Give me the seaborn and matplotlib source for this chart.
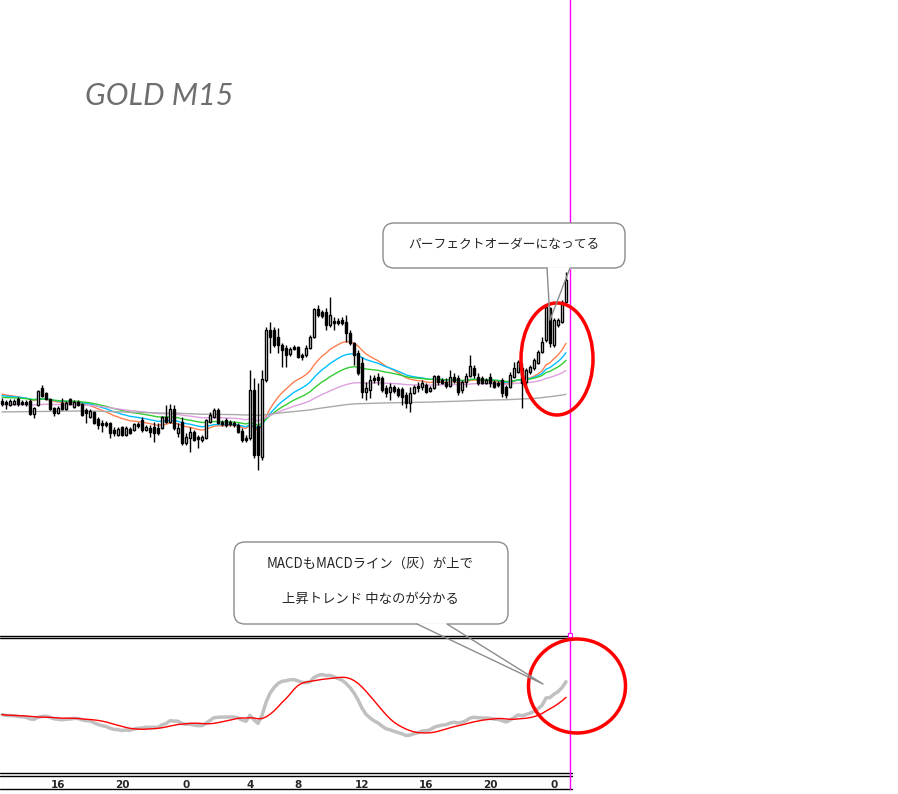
import numpy as np
import pandas as pd
import matplotlib
matplotlib.use('Agg')
import matplotlib.pyplot as plt
from matplotlib.patches import FancyBboxPatch, Ellipse
import seaborn as sns

# ---- data (GOLD M15) ----
opens = [1789.9, 1789.8, 1789.5, 1789.6, 1790.1, 1789.8, 1789.8, 1789.9, 1788.6, 1789.5,
         1791.2, 1790.7, 1790.1, 1789.2, 1788.7, 1789.7, 1789.1, 1790.1, 1789.3, 1789.8,
         1789.6, 1789.0, 1788.3, 1788.8, 1788.1, 1787.7, 1787.7, 1787.7, 1787.0, 1786.5,
         1787.3, 1786.5, 1787.1, 1787.0, 1787.6, 1788.0, 1787.0, 1787.2, 1787.3, 1787.2,
         1787.2, 1788.3, 1787.8, 1789.1, 1786.7, 1787.8, 1785.7, 1786.2, 1786.8, 1786.3,
         1786.0, 1786.2, 1787.8, 1788.3, 1789.0, 1787.8, 1788.0, 1787.8, 1787.7, 1787.5,
         1786.9, 1786.2, 1786.2, 1791.0, 1787.4, 1784.3, 1792.0, 1797.0, 1797.0, 1796.3,
         1795.5, 1795.2, 1794.6, 1795.3, 1795.3, 1794.5, 1794.5, 1795.2, 1796.3, 1799.1,
         1798.8, 1798.8, 1797.5, 1797.9, 1797.9, 1798.0, 1797.8, 1796.7, 1795.7, 1794.7,
         1793.7, 1790.8, 1791.0, 1792.2, 1792.3, 1792.2, 1791.2, 1790.8, 1791.3, 1791.1,
         1791.1, 1790.5, 1789.7, 1790.7, 1791.4, 1791.3, 1791.5, 1790.9, 1791.2, 1792.4,
         1792.0, 1791.8, 1791.4, 1792.3, 1792.2, 1791.0, 1791.8, 1792.4, 1793.2, 1792.3,
         1792.2, 1791.7, 1792.3, 1791.8, 1791.7, 1792.0, 1791.3, 1791.3, 1792.3, 1792.8,
         1793.2, 1791.8, 1792.8, 1793.2, 1793.7, 1794.8, 1796.0, 1799.2, 1795.5, 1797.5,
         1797.8, 1799.8]
highs = [1790.2, 1790.0, 1790.1, 1790.1, 1790.3, 1790.0, 1790.0, 1790.1, 1789.3, 1791.0,
         1791.5, 1790.8, 1790.2, 1789.3, 1789.4, 1790.2, 1789.9, 1790.2, 1790.0, 1790.0,
         1789.7, 1789.2, 1789.1, 1788.9, 1788.3, 1788.0, 1787.9, 1787.8, 1787.3, 1787.3,
         1787.4, 1787.4, 1787.3, 1787.7, 1787.8, 1788.3, 1787.5, 1787.5, 1787.8, 1787.7,
         1788.4, 1789.5, 1789.6, 1789.5, 1787.7, 1788.3, 1786.7, 1787.3, 1787.0, 1786.5,
         1786.5, 1788.1, 1788.8, 1789.2, 1789.2, 1788.0, 1788.2, 1788.0, 1787.9, 1787.7,
         1787.2, 1786.5, 1793.0, 1792.2, 1791.7, 1793.0, 1797.3, 1797.8, 1797.3, 1797.2,
         1795.7, 1795.5, 1795.3, 1795.5, 1795.4, 1794.7, 1795.5, 1796.5, 1799.2, 1799.5,
         1799.0, 1799.2, 1800.3, 1798.3, 1798.2, 1798.3, 1798.5, 1797.0, 1795.8, 1795.0,
         1794.3, 1791.8, 1792.5, 1792.5, 1792.7, 1792.4, 1791.5, 1791.7, 1791.5, 1791.3,
         1791.3, 1790.8, 1791.3, 1791.5, 1791.8, 1792.0, 1791.7, 1791.4, 1792.5, 1792.5,
         1792.2, 1792.2, 1793.0, 1792.7, 1792.5, 1792.0, 1792.7, 1794.5, 1793.5, 1792.7,
         1792.4, 1792.2, 1792.7, 1792.0, 1791.9, 1792.2, 1791.5, 1792.8, 1793.8, 1794.0,
         1793.7, 1793.2, 1793.5, 1794.2, 1795.0, 1796.3, 1799.5, 1799.3, 1798.2, 1798.2,
         1800.0, 1802.8]
lows = [1789.4, 1789.1, 1789.4, 1789.5, 1789.4, 1789.5, 1789.4, 1788.5, 1788.2, 1789.4,
        1790.3, 1790.0, 1789.0, 1788.4, 1788.6, 1789.0, 1789.0, 1789.5, 1789.2, 1789.4,
        1788.4, 1787.7, 1788.2, 1787.6, 1787.1, 1786.8, 1787.3, 1786.2, 1786.4, 1786.4,
        1786.4, 1786.4, 1786.6, 1786.9, 1787.2, 1786.8, 1786.9, 1786.3, 1785.8, 1786.5,
        1787.1, 1787.7, 1787.7, 1787.0, 1786.3, 1785.5, 1785.5, 1784.8, 1785.9, 1785.2,
        1785.8, 1786.1, 1787.7, 1788.2, 1787.6, 1787.4, 1787.3, 1787.4, 1787.3, 1786.7,
        1785.8, 1785.8, 1786.0, 1784.2, 1783.0, 1784.0, 1791.8, 1794.7, 1795.3, 1794.7,
        1793.3, 1793.3, 1794.4, 1795.0, 1794.2, 1794.0, 1794.3, 1795.1, 1796.2, 1798.3,
        1798.2, 1797.0, 1797.3, 1797.0, 1797.5, 1797.5, 1795.8, 1795.5, 1793.5, 1792.5,
        1790.2, 1790.0, 1790.2, 1791.7, 1791.5, 1790.8, 1790.3, 1790.0, 1790.7, 1790.3,
        1789.5, 1789.2, 1788.8, 1790.6, 1790.8, 1791.0, 1790.7, 1790.8, 1791.1, 1791.5,
        1791.6, 1791.2, 1791.3, 1791.7, 1790.5, 1790.7, 1791.3, 1792.3, 1792.2, 1791.5,
        1791.6, 1791.6, 1791.3, 1791.2, 1791.3, 1790.3, 1790.2, 1791.2, 1792.2, 1792.7,
        1789.2, 1790.8, 1792.6, 1793.0, 1793.6, 1794.7, 1795.8, 1795.3, 1795.3, 1797.3,
        1797.7, 1799.7]
closes = [1789.6, 1789.6, 1789.9, 1789.9, 1789.6, 1789.6, 1789.6, 1788.6, 1789.2, 1790.9,
          1790.4, 1790.1, 1789.1, 1788.7, 1789.2, 1789.1, 1789.7, 1789.6, 1789.8, 1789.5,
          1788.5, 1788.7, 1788.9, 1787.7, 1787.5, 1787.5, 1787.5, 1786.7, 1786.7, 1787.1,
          1786.5, 1787.2, 1786.7, 1787.6, 1787.4, 1787.0, 1787.3, 1786.8, 1786.7, 1786.7,
          1788.3, 1787.8, 1789.1, 1787.2, 1787.2, 1785.7, 1786.3, 1786.8, 1786.0, 1786.1,
          1786.3, 1788.0, 1788.5, 1789.0, 1787.7, 1787.6, 1787.5, 1787.6, 1787.5, 1786.8,
          1786.0, 1786.0, 1791.0, 1784.5, 1784.5, 1792.1, 1797.0, 1796.3, 1795.5, 1795.5,
          1795.0, 1794.5, 1795.1, 1795.1, 1794.3, 1794.3, 1795.2, 1796.3, 1799.1, 1798.5,
          1798.4, 1797.5, 1798.5, 1797.7, 1797.7, 1797.7, 1796.7, 1795.7, 1794.5, 1792.7,
          1790.8, 1791.2, 1792.0, 1792.0, 1792.0, 1791.0, 1790.7, 1791.3, 1790.9, 1790.5,
          1790.3, 1789.7, 1790.7, 1791.3, 1791.2, 1791.7, 1790.8, 1791.2, 1792.4, 1791.8,
          1791.7, 1791.4, 1792.3, 1791.9, 1790.8, 1791.8, 1792.4, 1793.4, 1792.5, 1791.7,
          1791.7, 1792.0, 1791.7, 1791.3, 1791.5, 1790.7, 1790.5, 1792.5, 1793.2, 1793.8,
          1791.7, 1793.0, 1793.3, 1794.0, 1794.8, 1795.8, 1799.3, 1795.7, 1798.0, 1798.0,
          1799.8, 1802.0]

# moving averages: period, level before the window, colour
ma_periods = [20, 30, 45, 80, 300]
ma_seeds = [1790.7, 1790.5, 1790.3, 1789.5, 1788.8]
ma_colors = ['#ff7f50', '#00bfff', '#32cd32', '#dda0dd', '#a9a9a9']
# MACD (12, 26, 9): EMA levels before the window
macd_seeds = [1790.1, 1789.9]

hour_ticks = [14, 30, 46, 62, 74, 90, 106, 122, 138]
hour_labels = ['16', '20', '0', '4', '8', '12', '16', '20', '0']
cursor_bar = 142

W, H = 898, 794


def ema(values, period, seed):
    s = pd.Series([seed] + list(values))
    return s.ewm(span=period, adjust=False).mean().iloc[1:].to_numpy()


df = pd.DataFrame({'open': opens, 'high': highs, 'low': lows, 'close': closes})
df['bar'] = np.arange(len(df))
df['macd'] = ema(df['close'], 12, macd_seeds[0]) - ema(df['close'], 26, macd_seeds[1])
df['signal'] = df['macd'].rolling(9, min_periods=1).mean()

sns.set_style('white')
plt.rcParams['font.family'] = ['Noto Sans CJK JP', 'DejaVu Sans']

fig = plt.figure(figsize=(W / 100, H / 100), dpi=100)
ax = fig.add_axes([0, (H - 634) / H, 1, 634 / H])
ax_m = fig.add_axes([0, (H - 772) / H, 1, 134 / H])

for a in (ax, ax_m):
    a.set_xlim(-0.5, 224)
    for sp in a.spines.values():
        sp.set_visible(False)
    a.set_yticks([])

# ---- main panel ----
for p, seed, col in zip(ma_periods, ma_seeds, ma_colors):
    sns.lineplot(x=df['bar'], y=ema(df['close'], p, seed), ax=ax, color=col, lw=1, zorder=2)

ax.vlines(df['bar'], df['low'], df['high'], color='black', lw=1, zorder=3)
bull = df[df['close'] >= df['open']]
bear = df[df['close'] < df['open']]
ax.bar(bull['bar'], np.maximum(bull['close'] - bull['open'], 0.15), bottom=bull['open'],
       width=0.62, color='white', edgecolor='black', lw=1, zorder=4)
ax.bar(bear['bar'], np.maximum(bear['open'] - bear['close'], 0.15), bottom=bear['close'],
       width=0.62, color='black', edgecolor='black', lw=1, zorder=4)
ax.set_ylim(1766.6, 1830)
ax.set_xticks([])
ax.set_xlabel('')
ax.set_ylabel('')

# ---- MACD panel ----
sns.lineplot(x=df['bar'], y=df['macd'], ax=ax_m, color='#c0c0c0', lw=2.5)
sns.lineplot(x=df['bar'], y=df['signal'], ax=ax_m, color='#ff0000', lw=1)
lo = min(df['macd'].min(), df['signal'].min())
hi = max(df['macd'].max(), df['signal'].max())
rng = hi - lo
ax_m.set_ylim(lo - 0.6 * rng, hi + 0.6 * rng)
ax_m.set_xlabel('')
ax_m.set_ylabel('')
ax_m.set_xticks(hour_ticks)
ax_m.set_xticklabels(hour_labels, fontsize=7.5, fontweight='bold', family='DejaVu Sans')
ax_m.tick_params(axis='x', length=0, pad=6)

# panel borders and the cursor line
tr = ax_m.get_xaxis_transform()
for yy in [1 + 0.5 / 134, 1 + 2.5 / 134, -1 / 134, -3.5 / 134, -17 / 134]:
    ax_m.plot([-0.5, cursor_bar + 0.5], [yy, yy], transform=tr, color='black', lw=1,
              clip_on=False)
ax_m.plot([cursor_bar, cursor_bar], [-17 / 134, 1 + 638 / 134], transform=tr,
          color='#ff00ff', lw=1, clip_on=False, zorder=6)
ax_m.plot([cursor_bar], [1 + 3 / 134], transform=tr, marker='s', ms=3.5, mfc='white',
          mec='#ff00ff', mew=0.8, clip_on=False, zorder=7)

# ---- annotations (figure pixels) ----
ov = fig.add_axes([0, 0, 1, 1], zorder=10)
ov.set_xlim(0, W)
ov.set_ylim(H, 0)
ov.axis('off')
ov.patch.set_alpha(0)

ov.text(85, 96, 'GOLD M15', fontsize=22, color='#6e6e6e', style='italic',
        family=['Lato', 'DejaVu Sans'], va='center', ha='left')


def callout(x0, y0, w, h, base, tip):
    box = FancyBboxPatch((x0, y0), w, h, boxstyle='round,pad=0,rounding_size=11',
                         fc='white', ec='#8c8c8c', lw=1)
    ov.add_patch(box)
    ov.plot([base[0] + 0.8, base[1] - 0.8], [y0 + h, y0 + h], color='white', lw=2, zorder=3)
    ov.plot([base[0], tip[0], base[1]], [y0 + h, tip[1], y0 + h], color='#8c8c8c', lw=1,
            zorder=3)


callout(383, 223, 242, 45, (547, 570), (550, 320))
ov.text(504, 244, 'パーフェクトオーダーになってる', fontsize=9.2, ha='center', va='center')

callout(234, 542, 274, 82, (417, 447), (543, 684))
ov.text(370, 564, 'MACDもMACDライン（灰）が上で', fontsize=9.6, ha='center', va='center')
ov.text(370, 599, '上昇トレンド 中なのが分かる', fontsize=9.6, ha='center', va='center')

ov.add_patch(Ellipse((557, 359), 72, 112, fc='none', ec='#ff0000', lw=2.5))
ov.add_patch(Ellipse((577, 686), 97, 94, fc='none', ec='#ff0000', lw=2.5))

fig.savefig('out.png', dpi=100)
